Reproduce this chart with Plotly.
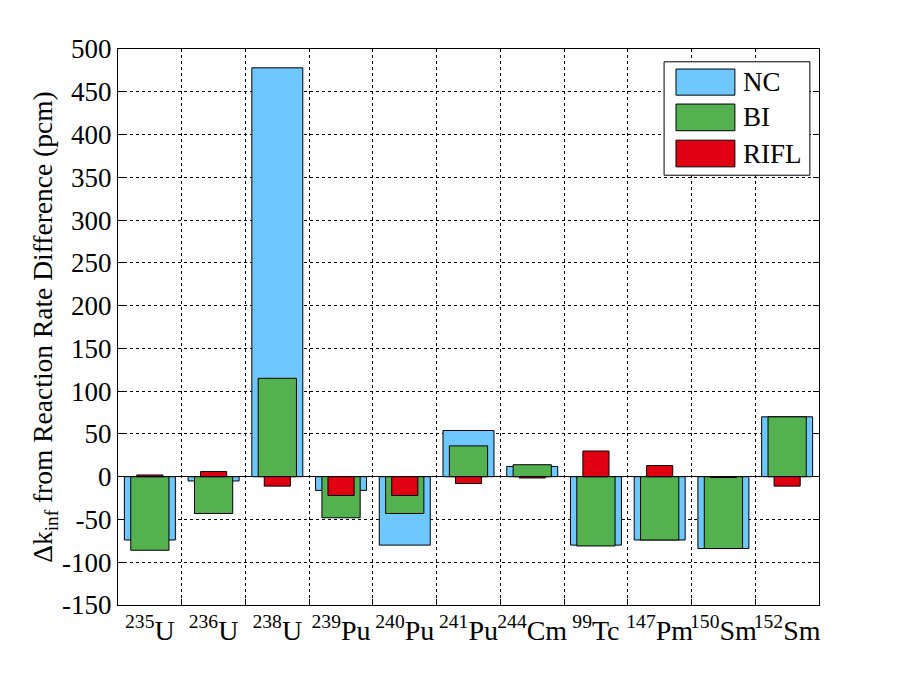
import plotly.graph_objects as go

# 핵종 라벨
nuclides = ['<sup>235</sup>U', '<sup>236</sup>U', '<sup>238</sup>U', '<sup>239</sup>Pu',
            '<sup>240</sup>Pu', '<sup>241</sup>Pu', '<sup>244</sup>Cm', '<sup>99</sup>Tc',
            '<sup>147</sup>Pm', '<sup>150</sup>Sm', '<sup>152</sup>Sm']
pos = list(range(1, len(nuclides) + 1))

# y축 눈금 (MATLAB처럼 하이픈 마이너스)
y_ticks = list(range(-150, 501, 50))
y_labels = [str(v) for v in y_ticks]

# 반응률 차이에 따른 dk_inf (pcm)
nc = [-74, -5, 478, -16, -80, 54, 12, -80, -74, -84, 70]
bi = [-86, -43, 115, -48, -43, 36, 14, -81, -74, -84, 70]
rifl = [2, 6, -11, -22, -22, -8, -1.5, 30, 13, -1, -11]

series = [('NC', nc, '#6EC8FF', 0.8),
          ('BI', bi, '#53B150', 0.6),
          ('RIFL', rifl, '#E00012', 0.41)]

font = 'Liberation Serif'

fig = go.Figure()
for name, vals, color, w in series:
    fig.add_trace(go.Bar(
        x=pos, y=vals, name=name, width=w,
        marker=dict(color=color, line=dict(color='black', width=1)),
        showlegend=False,
    ))

fig.update_layout(
    width=903, height=680,
    margin=dict(l=110, r=92, t=41, b=83),
    barmode='overlay',
    plot_bgcolor='white', paper_bgcolor='white',
    font=dict(family=font, size=27, color='black'),
)

fig.update_xaxes(
    range=[0.5, 11.5], automargin=False,
    tickmode='array', tickvals=pos, ticktext=nuclides, tickangle=0,
    ticks='', showgrid=False,
    tickfont=dict(family=font, size=28),
    showline=True, linecolor='black', linewidth=1, mirror=True,
    minor=dict(tickmode='array', tickvals=[p + 0.5 for p in pos[:-1]],
               ticks='inside', ticklen=6, tickcolor='black',
               showgrid=True, gridcolor='black', griddash='3px,3px', gridwidth=1),
)
fig.update_yaxes(
    range=[-150, 500], automargin=False,
    tickmode='array', tickvals=y_ticks, ticktext=y_labels,
    ticks='inside', ticklen=6, tickcolor='black',
    tickfont=dict(family=font, size=27),
    showgrid=True, gridcolor='black', griddash='3px,3px', gridwidth=1,
    zeroline=True, zerolinecolor='black', zerolinewidth=1,
    showline=True, linecolor='black', linewidth=1, mirror='ticks',
    title=dict(text='Δk<sub>inf</sub> from Reaction Rate Difference (pcm)',
               font=dict(family=font, size=27.5), standoff=0),
)

# 범례 (MATLAB 스타일 큰 박스)
fig.add_shape(type='rect', xref='paper', yref='paper',
              x0=0.779, x1=0.987, y0=0.773, y1=0.977,
              line=dict(color='black', width=1), fillcolor='white')
sw_y = [(0.917, 0.964), (0.853, 0.901), (0.788, 0.836)]
for (name, vals, color, w), (y0, y1) in zip(series, sw_y):
    fig.add_shape(type='rect', xref='paper', yref='paper',
                  x0=0.796, x1=0.880, y0=y0, y1=y1,
                  line=dict(color='black', width=1), fillcolor=color)
    fig.add_annotation(text=name, xref='paper', yref='paper',
                       x=0.889, y=(y0 + y1) / 2, xanchor='left', yanchor='middle',
                       showarrow=False, font=dict(family=font, size=27))

fig.write_html('out.html')
